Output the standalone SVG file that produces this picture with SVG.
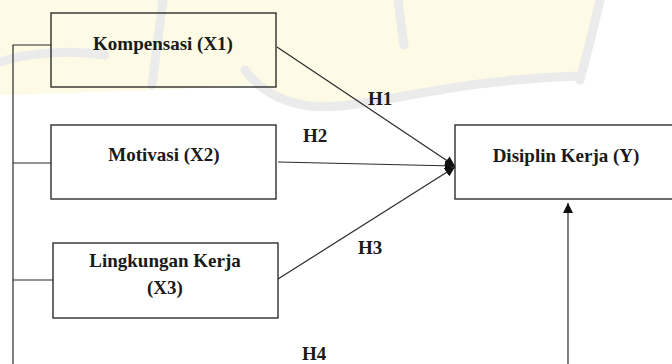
<svg xmlns="http://www.w3.org/2000/svg" width="672" height="364" viewBox="0 0 672 364">
<defs>
<style>
.box{fill:none;stroke:#1e1e1e;stroke-width:1.3}
.lbl{font-family:"Liberation Serif","Times New Roman",serif;font-weight:bold;font-size:19px;fill:#1a1a1a;text-anchor:middle}
.h{font-family:"Liberation Serif","Times New Roman",serif;font-weight:bold;font-size:19px;fill:#1a1a1a}
.ln{fill:none;stroke:#2a2a2a;stroke-width:1.2}
.wm{fill:none;stroke:#ebebeb;stroke-width:9;stroke-linecap:round}
</style>
<marker id="ah" viewBox="0 0 10 10" refX="10" refY="5" markerWidth="10" markerHeight="10" markerUnits="userSpaceOnUse" orient="auto">
<path d="M0,0 L10,5 L0,10 Z" fill="#111"/>
</marker>
</defs>
<rect width="672" height="364" fill="#fff"/>
<g id="watermark">
<path d="M0,0 H598 C590,35 584,60 578,78 C530,76 480,80 440,90 C400,100 360,108 320,107 C290,104 270,95 255,85 C200,88 120,92 0,95 Z" fill="#fdfae6"/>
<path class="wm" d="M0,62 C30,52 70,50 105,55"/>
<path class="wm" d="M245,70 C265,98 300,110 340,106 C400,100 460,80 578,76"/>
<path class="wm" d="M600,0 C592,35 586,58 580,80"/>
<path class="wm" d="M398,0 C400,15 402,30 404,45"/>
<path class="wm" d="M163,0 C159,30 155,60 152,85"/>
</g>
<g id="connectors">
<path class="ln" d="M51,45 H13 V364"/>
<path class="ln" d="M13,163 H51"/>
<path class="ln" d="M13,280 H53"/>
<path class="ln" d="M277,47 L455,166" marker-end="url(#ah)"/>
<path class="ln" d="M278,162 L455,166" marker-end="url(#ah)"/>
<path class="ln" d="M278,279 L455,167" marker-end="url(#ah)"/>
<path class="ln" d="M568,364 V203" marker-end="url(#ah)"/>
<text class="h" x="368" y="105">H1</text>
<text class="h" x="303" y="142">H2</text>
<text class="h" x="358" y="254">H3</text>
<text class="h" x="302" y="360">H4</text>
</g>
<g id="x1">
<rect class="box" x="51" y="13" width="225" height="74"/>
<text class="lbl" x="163" y="50">Kompensasi (X1)</text>
</g>
<g id="x2">
<rect class="box" x="51" y="125" width="225" height="74"/>
<text class="lbl" x="164" y="161">Motivasi (X2)</text>
</g>
<g id="x3">
<rect class="box" x="53" y="243" width="225" height="75"/>
<text class="lbl" x="165" y="267">Lingkungan Kerja</text>
<text class="lbl" x="165" y="294">(X3)</text>
</g>
<g id="y">
<rect class="box" x="455" y="125" width="240" height="74"/>
<text class="lbl" x="566" y="162">Disiplin Kerja (Y)</text>
</g>
</svg>
